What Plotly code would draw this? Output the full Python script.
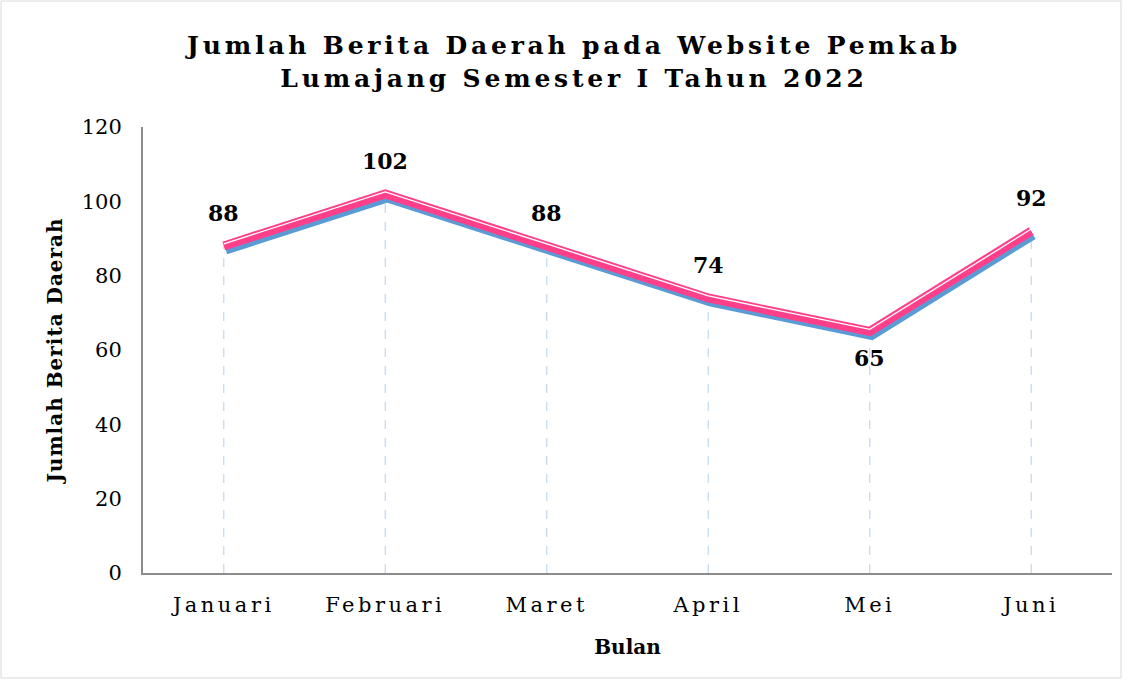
import plotly.graph_objects as go

months = ["Januari", "Februari", "Maret", "April", "Mei", "Juni"]
counts = [88, 102, 88, 74, 65, 92]
y_ticks = [0, 20, 40, 60, 80, 100, 120]

W, H = 1130, 681
# main axes area: x 143..1112, y 127..573 ; paper area padded a few px
ML, MR, MT, MB = 143, 14, 123, 104
PW, PH = W - ML - MR, H - MT - MB
AX0, AX1 = 143, 1112
AY0, AY1 = 127, 573


def xd(p0, p1):
    return [(p0 - ML) / PW, (p1 - ML) / PW]


def yd(p0, p1):  # p0 top pixel, p1 bottom pixel
    return [(H - MB - p1) / PH, (H - MB - p0) / PH]


SERIF = "DejaVu Serif"
PINK = "#FF3F8A"
BLUE = "#5B9BD5"

fig = go.Figure()

# drop lines built from the data
dx, dy = [], []
for m, v in zip(months, counts):
    dx += [m, m, None]
    dy += [0, v, None]
fig.add_trace(go.Scatter(x=dx, y=dy, mode="lines",
                         line=dict(color="#C5DAF0", width=1.3, dash="dash"),
                         hoverinfo="skip", showlegend=False))

# shadow line (offset axes)
fig.add_trace(go.Scatter(x=months, y=counts, mode="lines", xaxis="x2", yaxis="y2",
                         line=dict(color=BLUE, width=9), showlegend=False))
# main pink line
fig.add_trace(go.Scatter(x=months, y=counts, mode="lines", xaxis="x3", yaxis="y3",
                         line=dict(color=PINK, width=9), showlegend=False))
# highlight
fig.add_trace(go.Scatter(x=months, y=counts, mode="lines", xaxis="x4", yaxis="y4",
                         line=dict(color="white", width=1.3), showlegend=False))

# data labels
for i, (m, v) in enumerate(zip(months, counts)):
    below = (0 < i < len(counts) - 1 and v < counts[i - 1] and v < counts[i + 1])
    fig.add_annotation(x=m, y=v, text=f"<b>{v}</b>", showarrow=False,
                       yshift=-27 if below else 33,
                       font=dict(family=SERIF, size=22, color="black"))

common_hidden = dict(visible=False, showgrid=False, zeroline=False)


def hid_x(p0, p1, anchor):
    return dict(type="category", categoryorder="array", categoryarray=months,
                range=[-0.5, 5.5], domain=xd(p0, p1), anchor=anchor, **common_hidden)


def hid_y(p0, p1, anchor):
    return dict(range=[0, 120], domain=yd(p0, p1), anchor=anchor, **common_hidden)


fig.update_layout(
    width=W, height=H,
    margin=dict(l=ML, r=MR, t=MT, b=MB),
    paper_bgcolor="white", plot_bgcolor="rgba(0,0,0,0)",
    title=dict(text="<b>Jumlah Berita Daerah pada Website Pemkab<br>Lumajang Semester I Tahun 2022</b>",
               x=0.508, xref="container", xanchor="center", y=1 - 54 / H, yanchor="middle",
               font=dict(family=SERIF, size=25, color="black")),
    xaxis=dict(type="category", categoryorder="array", categoryarray=months,
               range=[-0.5, 5.5], domain=xd(AX0, AX1), anchor="y",
               showline=True, linecolor="#8C8C8C", linewidth=2,
               showgrid=False, zeroline=False, ticks="", ticklabelstandoff=12,
               tickfont=dict(family=SERIF, size=21, color="black"),
               title=dict(text="<b>Bulan</b>", standoff=24,
                          font=dict(family=SERIF, size=20, color="black"))),
    yaxis=dict(range=[0, 120], tickvals=y_ticks, domain=yd(AY0, AY1), anchor="x",
               showline=True, linecolor="#8C8C8C", linewidth=2,
               showgrid=False, zeroline=False, ticks="", ticklabelstandoff=15,
               tickfont=dict(family=SERIF, size=21, color="black"),
               title=dict(text="<b>Jumlah Berita Daerah</b>", standoff=14,
                          font=dict(family=SERIF, size=20, color="black"))),
    xaxis2=hid_x(AX0 + 2, AX1 + 2, "y2"), yaxis2=hid_y(AY0 + 4, AY1 + 4, "x2"),
    xaxis3=hid_x(AX0, AX1, "y3"), yaxis3=hid_y(AY0, AY1, "x3"),
    xaxis4=hid_x(AX0, AX1, "y4"), yaxis4=hid_y(AY0 - 2, AY1 - 2, "x4"),
    shapes=[dict(type="rect", xref="paper", yref="paper",
                 x0=(1 - ML) / PW, x1=(1121 - ML) / PW,
                 y0=(H - MB - 678) / PH, y1=(H - MB - 1) / PH,
                 line=dict(color="#D9D9D9", width=1), layer="below")],
)

post = """
document.body.style.margin = '0px';
var gd = document.getElementById('{plot_id}');
function spacing() {
  gd.querySelectorAll('.gtitle').forEach(function(e){ e.style.letterSpacing = '3.8px'; });
  gd.querySelectorAll('.xtick text').forEach(function(e){ e.style.letterSpacing = '3.5px'; });
  gd.querySelectorAll('.ytitle').forEach(function(e){ e.style.letterSpacing = '1px'; });
}
spacing();
gd.on('plotly_afterplot', spacing);
"""

fig.write_html("out.html", post_script=post, config={"displayModeBar": False})
